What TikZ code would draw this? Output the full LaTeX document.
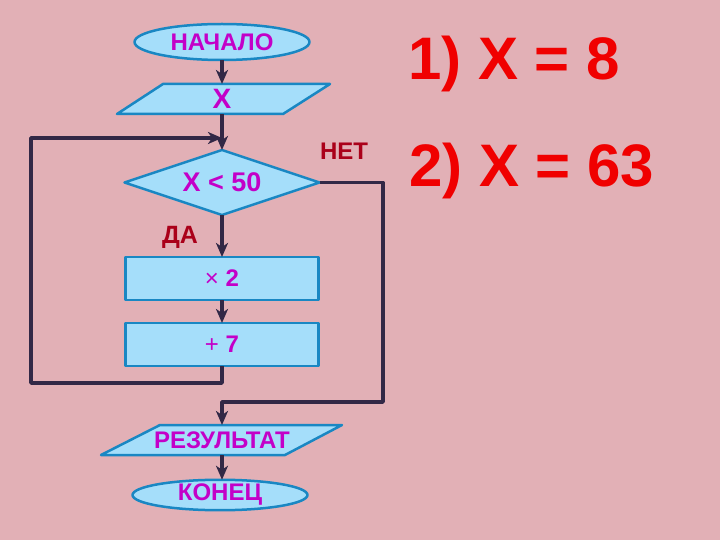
\documentclass[tikz,border=0pt]{standalone}
\usepackage{fontspec}
\setmainfont{Liberation Sans}
\usetikzlibrary{shapes.geometric,arrows.meta}
\definecolor{bgpink}{RGB}{226,176,182}
\definecolor{boxfill}{RGB}{165,222,250}
\definecolor{boxline}{RGB}{25,135,195}
\definecolor{txtmag}{RGB}{195,0,200}
\definecolor{lblred}{RGB}{170,0,25}
\definecolor{bigred}{RGB}{240,0,0}
\definecolor{linecol}{RGB}{50,40,70}
\begin{document}
\begin{tikzpicture}[x=1pt,y=-1pt,line join=round,>={Stealth[length=14pt,width=12pt,inset=4pt]}]
			\tikzset{block/.style={draw=boxline,fill=boxfill,line width=2.5pt,inner sep=0pt,outer sep=0pt,text=txtmag,font=\fontsize{24}{24}\selectfont\bfseries},
				term/.style={block,ellipse,minimum width=175pt},
				io/.style={draw=boxline,fill=boxfill,line width=2.5pt},
				iotext/.style={text=txtmag,inner sep=0pt,outer sep=0pt,minimum width=120pt,minimum height=30pt,font=\fontsize{24}{24}\selectfont\bfseries},
				act/.style={block,rectangle,minimum width=193pt,minimum height=43pt},
				flow/.style={draw=linecol,line width=3.5pt},
				lbl/.style={text=lblred,font=\fontsize{24}{24}\selectfont\bfseries,inner sep=0pt},
				big/.style={text=bigred,font=\fontsize{60}{60}\selectfont\bfseries,inner sep=0pt,anchor=base west}}
			\fill[bgpink] (0,0) rectangle (720,540);
			% parallelograms
			\filldraw[io] (163,84) -- (330,84) -- (283,114) -- (117,114) -- cycle;
			\filldraw[io] (160,425) -- (342,425) -- (285,455) -- (101,455) -- cycle;
			% flowchart
			\node[term,minimum height=36pt] (start) at (222,42) {НАЧАЛО};
			\node[iotext,font=\fontsize{28}{28}\selectfont\bfseries] (inp) at (222,99) {X};
			\node[block,diamond,aspect=3,minimum width=195pt,minimum height=65pt,font=\fontsize{27}{27}\selectfont\bfseries] (cond) at (222,182.5) {X < 50};
			\node[act] (mul) at (222,278.5) {{\mdseries ×} 2};
			\node[act] (add) at (222,344.5) {{\mdseries +} 7};
			\node[iotext] (res) at (222,440) {РЕЗУЛЬТАТ};
			\node[term,minimum height=30pt] (fin) at (220,495) {КОНЕЦ};
			\node[lbl] (no) at (344,151) {НЕТ};
			\node[lbl,font=\fontsize{25}{25}\selectfont\bfseries] (yes) at (180,237) {ДА};
			\coordinate (join) at (222,138);
			\coordinate (loopB) at (31,383);
			\coordinate (loopT) at (31,138);
			\coordinate (noB) at (383,402);
			% connectors
			\draw[flow,->] (start) -- (inp);
			\draw[flow,->] (inp) -- (cond);
			\draw[flow,->] (cond) -- (mul);
			\draw[flow,->] (mul) -- (add);
			\draw[flow,->] (add.south) |- (loopB) -- (loopT) -- (join);
			\draw[flow,->] (cond.east) -| (noB) -| (res.north);
			\draw[flow,->] (res.south) -- (res.south |- fin.north);
			% answers
			\node[big] (ans1) at (408,80) {1) X = 8};
			\node[big] (ans2) at (409,187) {2) X = 63};
		\end{tikzpicture}
\end{document}
